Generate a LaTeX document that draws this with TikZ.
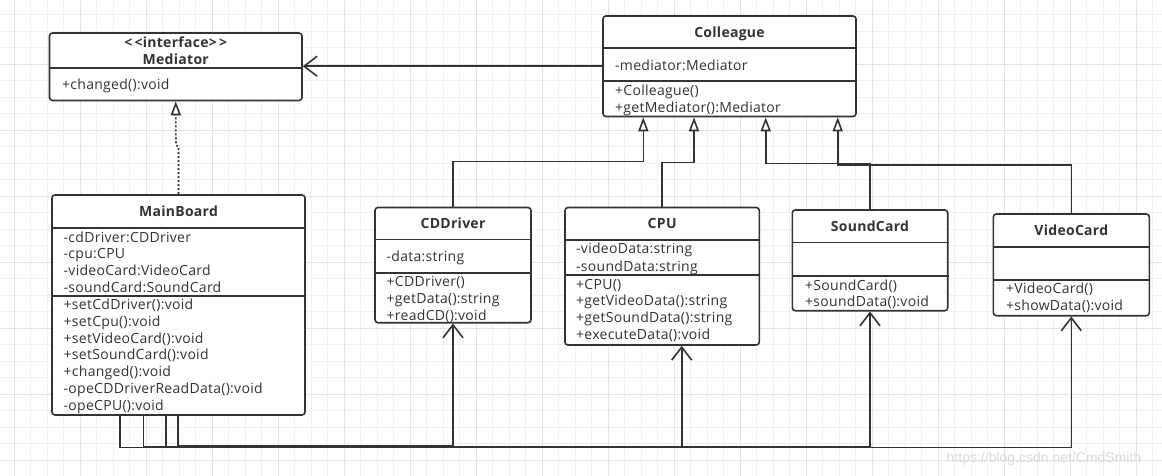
\documentclass[tikz,border=0pt]{standalone}
\usepackage{fontspec}
\setmainfont{Open Sans}[LetterSpace=2.0]
\newfontfamily\wmfont{Liberation Sans}
\usetikzlibrary{arrows.meta}
\definecolor{ink}{HTML}{333333}
\definecolor{gridminor}{HTML}{F1F1F1}
\definecolor{gridmajor}{HTML}{E4E4E4}
\begin{document}
\begin{tikzpicture}[x=1pt,y=-1pt,
  classbox/.style={draw=ink, line width=1.6pt, rounded corners=3pt, fill=white, inner sep=0pt},
  divider/.style={draw=ink, line width=1.6pt},
  member/.style={anchor=west, inner sep=0pt, text height=12.5pt, text depth=3pt, font=\fontsize{14}{16}\selectfont, text=ink},
  title/.style={inner sep=0pt, text height=12.5pt, text depth=3pt, font=\fontsize{14}{16}\selectfont\bfseries, text=ink},
  conn/.style={draw=ink, line width=1.6pt},
  assoc/.style={conn, -{Straight Barb[length=13pt,width=20pt]}},
  inherit/.style={conn, -{Triangle[length=14pt,width=10pt,fill=white]}},
  realize/.style={inherit, dash pattern=on 2pt off 2pt},
]
\fill[white] (0,0) rectangle (1162,476);
\useasboundingbox (0,0) rectangle (1162,476);
% grid
\foreach \i in {0,...,69} \draw[gridminor, line width=0.8pt] ({14+16.5*\i},0) -- ({14+16.5*\i},476);
\foreach \j in {0,...,27} \draw[gridminor, line width=0.8pt] (0,{14.8+16.5*\j}) -- (1162,{14.8+16.5*\j});
\foreach \i in {0,4,...,68} \draw[gridmajor, line width=0.8pt] ({14+16.5*\i},0) -- ({14+16.5*\i},476);
\foreach \j in {3,7,...,27} \draw[gridmajor, line width=0.8pt] (0,{14.8+16.5*\j}) -- (1162,{14.8+16.5*\j});

% Mediator
\node[classbox, minimum width=252.5pt, minimum height=67.5pt] (med) at (175.75,66.75) {};
\draw[divider] (med.west |- 0,68.3) -- (med.east |- 0,68.3);
\node[title] (medt1) at (175.75,42.7) {<\,<interface>\,>};
\node[title] (medt2) at (175.75,59.3) {Mediator};
\node[member] (medm1) at (62,85) {+changed():void};

% Colleague
\node[classbox, minimum width=253pt, minimum height=100.5pt] (col) at (729.5,66.25) {};
\draw[divider] (col.west |- 0,48.3) -- (col.east |- 0,48.3);
\draw[divider] (col.west |- 0,81) -- (col.east |- 0,81);
\node[title] (colt) at (729.5,32.7) {Colleague};
\node[member] (cola1) at (615,65.7) {-mediator:Mediator};
\node[member] (colm1) at (615,90.7) {+Colleague()};
\node[member] (colm2) at (615,107.7) {+getMediator():Mediator};

% MainBoard
\node[classbox, minimum width=253pt, minimum height=220pt] (mb) at (178.5,305) {};
\draw[divider] (mb.west |- 0,227.7) -- (mb.east |- 0,227.7);
\draw[divider] (mb.west |- 0,296) -- (mb.east |- 0,296);
\node[title] (mbt) at (178.5,211.7) {MainBoard};
\node[member] (mba1) at (63.5,237.3) {-cdDriver:CDDriver};
\node[member] (mba2) at (63.5,254) {-cpu:CPU};
\node[member] (mba3) at (63.5,270.7) {-videoCard:VideoCard};
\node[member] (mba4) at (63.5,287.3) {-soundCard:SoundCard};
\node[member] (mbm1) at (63.5,305) {+setCdDriver():void};
\node[member] (mbm2) at (63.5,321.7) {+setCpu():void};
\node[member] (mbm3) at (63.5,338.4) {+setVideoCard():void};
\node[member] (mbm4) at (63.5,355.1) {+setSoundCard():void};
\node[member] (mbm5) at (63.5,371.8) {+changed():void};
\node[member] (mbm6) at (63.5,388.8) {-opeCDDriverReadData():void};
\node[member] (mbm7) at (63.5,405.5) {-opeCPU():void};

% CDDriver
\node[classbox, minimum width=156pt, minimum height=115.2pt] (cd) at (453,265.1) {};
\draw[divider] (cd.west |- 0,239.3) -- (cd.east |- 0,239.3);
\draw[divider] (cd.west |- 0,272.7) -- (cd.east |- 0,272.7);
\node[title] (cdt) at (453,223.3) {CDDriver};
\node[member] (cda1) at (386.5,256.7) {-data:string};
\node[member] (cdm1) at (386.5,281.7) {+CDDriver()};
\node[member] (cdm2) at (386.5,298.5) {+getData():string};
\node[member] (cdm3) at (386.5,315.5) {+readCD():void};

% CPU
\node[classbox, minimum width=194.3pt, minimum height=137.5pt] (cpu) at (662.15,276.25) {};
\draw[divider] (cpu.west |- 0,240) -- (cpu.east |- 0,240);
\draw[divider] (cpu.west |- 0,275) -- (cpu.east |- 0,275);
\node[title] (cput) at (662.15,223.3) {CPU};
\node[member] (cpua1) at (576,249) {-videoData:string};
\node[member] (cpua2) at (576,266.3) {-soundData:string};
\node[member] (cpum1) at (576,284.3) {+CPU()};
\node[member] (cpum2) at (576,301.2) {+getVideoData():string};
\node[member] (cpum3) at (576,318.1) {+getSoundData():string};
\node[member] (cpum4) at (576,335) {+executeData():void};

% SoundCard
\node[classbox, minimum width=155.4pt, minimum height=100.7pt] (sc) at (870,260.35) {};
\draw[divider] (sc.west |- 0,242.3) -- (sc.east |- 0,242.3);
\draw[divider] (sc.west |- 0,275.7) -- (sc.east |- 0,275.7);
\node[title] (sct) at (870,226.7) {SoundCard};
\node[member] (scm1) at (805,285.7) {+SoundCard()};
\node[member] (scm2) at (805,301.7) {+soundData():void};

% VideoCard
\node[classbox, minimum width=156pt, minimum height=101.7pt] (vc) at (1071.3,264.85) {};
\draw[divider] (vc.west |- 0,246.7) -- (vc.east |- 0,246.7);
\draw[divider] (vc.west |- 0,280) -- (vc.east |- 0,280);
\node[title] (vct) at (1071.3,231) {VideoCard};
\node[member] (vcm1) at (1006,289) {+VideoCard()};
\node[member] (vcm2) at (1006,305.7) {+showData():void};

% Colleague -> Mediator
\draw[assoc] (col.west) -- (col.west -| med.east);
% realization MainBoard -> Mediator
\draw[realize] (mb.north) -- (178.5,147) -- (176,145) -- (med.south);
% inheritance
\draw[inherit] (cd.north) -- (453,161.7) -- (643.3,161.7) -- (col.south -| 643.3,0);
\draw[inherit] (cpu.north) -- (662.15,162.7) -- (694,162.7) -- (col.south -| 694,0);
\draw[inherit] (sc.north) -- (870,163.5) -- (765.7,163.5) -- (col.south -| 765.7,0);
\draw[inherit] (vc.north) -- (1071.3,165) -- (837.7,165) -- (col.south -| 837.7,0);
% associations from MainBoard
\draw[assoc] (mb.south -| 120,0) -- (120,447.5) -- (1071.3,447.5) -- (vc.south);
\draw[assoc] (mb.south -| 143.3,0) -- (143.3,447) -- (870,447) -- (sc.south);
\draw[assoc] (mb.south -| 166,0) -- (166,446.5) -- (681.7,446.5) -- (cpu.south -| 681.7,0);
\draw[assoc] (mb.south -| 177.7,0) -- (177.7,446) -- (453,446) -- (cd.south);

% watermark
\node[inner sep=0pt, text=black!14, font=\wmfont\fontsize{14}{16}\selectfont] (wm) at (1044,459) {https://blog.csdn.net/CmdSmith};
\end{tikzpicture}
\end{document}
